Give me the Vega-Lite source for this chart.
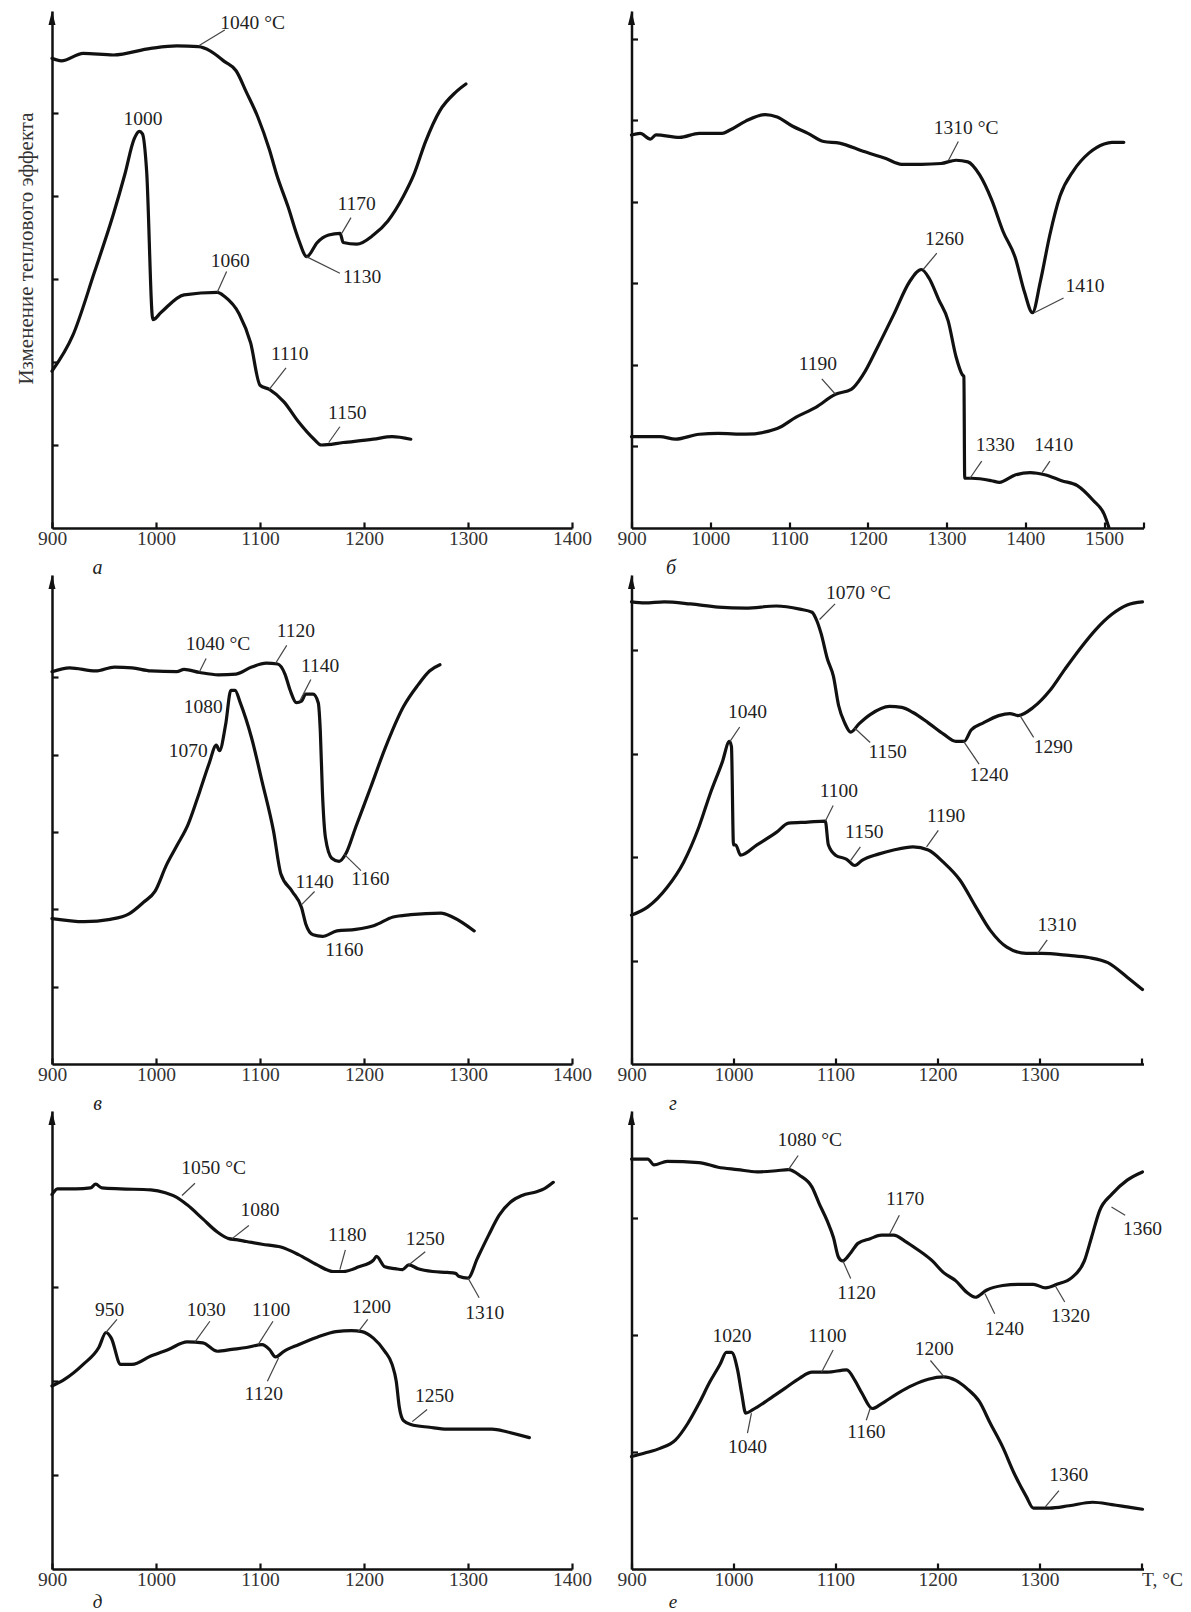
{
"$schema":"https://vega.github.io/schema/vega-lite/v6.json",
"background":"white",
"padding":{"left":15,"top":11,"right":5,"bottom":2},
"config":{"view":{"stroke":null},"font":"Liberation Serif",
 "line":{"interpolate":"monotone","color":"#111","strokeWidth":3.2,"strokeJoin":"round","strokeCap":"round"},
 "axis":{"grid":false,"domainColor":"#111","domainWidth":2.5,"tickColor":"#111","tickWidth":2.2,"tickSize":-6,"labelFont":"Liberation Serif","labelFontSize":19.5,"labelColor":"#333","labelPadding":7,"labelFlush":false,"labelOverlap":false,"titleFont":"Liberation Serif","titleFontWeight":"normal","titleColor":"#222"}},
"datasets":{
"curves":[
{"p":"a","s":"u","T":900,"y":5.66},{"p":"a","s":"u","T":909,"y":5.63},{"p":"a","s":"u","T":930,"y":5.72},{"p":"a","s":"u","T":959,"y":5.70},{"p":"a","s":"u","T":995,"y":5.78},{"p":"a","s":"u","T":1020,"y":5.81},{"p":"a","s":"u","T":1041,"y":5.80},{"p":"a","s":"u","T":1052,"y":5.75},{"p":"a","s":"u","T":1066,"y":5.62},{"p":"a","s":"u","T":1077,"y":5.51},{"p":"a","s":"u","T":1087,"y":5.25},{"p":"a","s":"u","T":1098,"y":4.95},{"p":"a","s":"u","T":1109,"y":4.56},{"p":"a","s":"u","T":1116,"y":4.26},{"p":"a","s":"u","T":1127,"y":3.87},{"p":"a","s":"u","T":1137,"y":3.48},{"p":"a","s":"u","T":1145,"y":3.27},{"p":"a","s":"u","T":1155,"y":3.44},{"p":"a","s":"u","T":1166,"y":3.53},{"p":"a","s":"u","T":1177,"y":3.55},{"p":"a","s":"u","T":1180,"y":3.44},{"p":"a","s":"u","T":1193,"y":3.42},{"p":"a","s":"u","T":1209,"y":3.53},{"p":"a","s":"u","T":1223,"y":3.70},{"p":"a","s":"u","T":1238,"y":4.00},{"p":"a","s":"u","T":1248,"y":4.26},{"p":"a","s":"u","T":1259,"y":4.65},{"p":"a","s":"u","T":1273,"y":5.03},{"p":"a","s":"u","T":1288,"y":5.25},{"p":"a","s":"u","T":1298,"y":5.35},
{"p":"a","s":"l","T":900,"y":1.89},{"p":"a","s":"l","T":920,"y":2.32},{"p":"a","s":"l","T":941,"y":3.09},{"p":"a","s":"l","T":959,"y":3.78},{"p":"a","s":"l","T":970,"y":4.26},{"p":"a","s":"l","T":979,"y":4.69},{"p":"a","s":"l","T":984,"y":4.78},{"p":"a","s":"l","T":987,"y":4.75},{"p":"a","s":"l","T":991,"y":4.30},{"p":"a","s":"l","T":997,"y":2.51},{"p":"a","s":"l","T":1005,"y":2.60},{"p":"a","s":"l","T":1027,"y":2.81},{"p":"a","s":"l","T":1059,"y":2.84},{"p":"a","s":"l","T":1066,"y":2.79},{"p":"a","s":"l","T":1080,"y":2.58},{"p":"a","s":"l","T":1091,"y":2.23},{"p":"a","s":"l","T":1100,"y":1.72},{"p":"a","s":"l","T":1109,"y":1.67},{"p":"a","s":"l","T":1123,"y":1.52},{"p":"a","s":"l","T":1137,"y":1.28},{"p":"a","s":"l","T":1152,"y":1.07},{"p":"a","s":"l","T":1159,"y":1.00},{"p":"a","s":"l","T":1180,"y":1.03},{"p":"a","s":"l","T":1209,"y":1.07},{"p":"a","s":"l","T":1227,"y":1.10},{"p":"a","s":"l","T":1245,"y":1.07},
{"p":"b","s":"u","T":900,"y":4.82},{"p":"b","s":"u","T":911,"y":4.84},{"p":"b","s":"u","T":924,"y":4.77},{"p":"b","s":"u","T":931,"y":4.82},{"p":"b","s":"u","T":961,"y":4.79},{"p":"b","s":"u","T":986,"y":4.84},{"p":"b","s":"u","T":1015,"y":4.84},{"p":"b","s":"u","T":1025,"y":4.88},{"p":"b","s":"u","T":1045,"y":4.99},{"p":"b","s":"u","T":1070,"y":5.07},{"p":"b","s":"u","T":1085,"y":5.04},{"p":"b","s":"u","T":1104,"y":4.93},{"p":"b","s":"u","T":1124,"y":4.84},{"p":"b","s":"u","T":1144,"y":4.74},{"p":"b","s":"u","T":1164,"y":4.72},{"p":"b","s":"u","T":1194,"y":4.62},{"p":"b","s":"u","T":1223,"y":4.53},{"p":"b","s":"u","T":1243,"y":4.46},{"p":"b","s":"u","T":1268,"y":4.46},{"p":"b","s":"u","T":1293,"y":4.47},{"p":"b","s":"u","T":1312,"y":4.51},{"p":"b","s":"u","T":1327,"y":4.49},{"p":"b","s":"u","T":1342,"y":4.33},{"p":"b","s":"u","T":1357,"y":4.03},{"p":"b","s":"u","T":1372,"y":3.63},{"p":"b","s":"u","T":1387,"y":3.32},{"p":"b","s":"u","T":1399,"y":2.89},{"p":"b","s":"u","T":1409,"y":2.64},{"p":"b","s":"u","T":1419,"y":3.02},{"p":"b","s":"u","T":1431,"y":3.59},{"p":"b","s":"u","T":1444,"y":4.07},{"p":"b","s":"u","T":1461,"y":4.38},{"p":"b","s":"u","T":1481,"y":4.60},{"p":"b","s":"u","T":1500,"y":4.71},{"p":"b","s":"u","T":1510,"y":4.73},{"p":"b","s":"u","T":1525,"y":4.73},
{"p":"b","s":"l","T":900,"y":1.12},{"p":"b","s":"l","T":936,"y":1.12},{"p":"b","s":"l","T":956,"y":1.09},{"p":"b","s":"l","T":986,"y":1.15},{"p":"b","s":"l","T":1010,"y":1.16},{"p":"b","s":"l","T":1045,"y":1.15},{"p":"b","s":"l","T":1085,"y":1.22},{"p":"b","s":"l","T":1109,"y":1.36},{"p":"b","s":"l","T":1134,"y":1.48},{"p":"b","s":"l","T":1159,"y":1.64},{"p":"b","s":"l","T":1179,"y":1.70},{"p":"b","s":"l","T":1194,"y":1.88},{"p":"b","s":"l","T":1213,"y":2.23},{"p":"b","s":"l","T":1233,"y":2.62},{"p":"b","s":"l","T":1253,"y":3.02},{"p":"b","s":"l","T":1268,"y":3.17},{"p":"b","s":"l","T":1278,"y":3.06},{"p":"b","s":"l","T":1290,"y":2.80},{"p":"b","s":"l","T":1302,"y":2.54},{"p":"b","s":"l","T":1312,"y":2.10},{"p":"b","s":"l","T":1320,"y":1.88},{"p":"b","s":"l","T":1322,"y":1.86},{"p":"b","s":"l","T":1323,"y":0.61},{"p":"b","s":"l","T":1332,"y":0.61},{"p":"b","s":"l","T":1357,"y":0.58},{"p":"b","s":"l","T":1367,"y":0.56},{"p":"b","s":"l","T":1387,"y":0.65},{"p":"b","s":"l","T":1406,"y":0.68},{"p":"b","s":"l","T":1426,"y":0.65},{"p":"b","s":"l","T":1446,"y":0.58},{"p":"b","s":"l","T":1466,"y":0.52},{"p":"b","s":"l","T":1486,"y":0.34},{"p":"b","s":"l","T":1500,"y":0.17},{"p":"b","s":"l","T":1506,"y":0.01},
{"p":"v","s":"u","T":900,"y":5.07},{"p":"v","s":"u","T":917,"y":5.12},{"p":"v","s":"u","T":942,"y":5.08},{"p":"v","s":"u","T":960,"y":5.13},{"p":"v","s":"u","T":977,"y":5.12},{"p":"v","s":"u","T":995,"y":5.08},{"p":"v","s":"u","T":1020,"y":5.07},{"p":"v","s":"u","T":1027,"y":5.10},{"p":"v","s":"u","T":1042,"y":5.06},{"p":"v","s":"u","T":1060,"y":5.03},{"p":"v","s":"u","T":1077,"y":5.04},{"p":"v","s":"u","T":1092,"y":5.13},{"p":"v","s":"u","T":1106,"y":5.18},{"p":"v","s":"u","T":1117,"y":5.17},{"p":"v","s":"u","T":1124,"y":5.04},{"p":"v","s":"u","T":1129,"y":4.83},{"p":"v","s":"u","T":1135,"y":4.67},{"p":"v","s":"u","T":1140,"y":4.69},{"p":"v","s":"u","T":1144,"y":4.78},{"p":"v","s":"u","T":1151,"y":4.78},{"p":"v","s":"u","T":1156,"y":4.67},{"p":"v","s":"u","T":1158,"y":4.30},{"p":"v","s":"u","T":1160,"y":3.52},{"p":"v","s":"u","T":1163,"y":2.92},{"p":"v","s":"u","T":1169,"y":2.66},{"p":"v","s":"u","T":1176,"y":2.62},{"p":"v","s":"u","T":1183,"y":2.73},{"p":"v","s":"u","T":1192,"y":3.06},{"p":"v","s":"u","T":1206,"y":3.56},{"p":"v","s":"u","T":1220,"y":4.07},{"p":"v","s":"u","T":1238,"y":4.62},{"p":"v","s":"u","T":1252,"y":4.90},{"p":"v","s":"u","T":1263,"y":5.08},{"p":"v","s":"u","T":1273,"y":5.16},
{"p":"v","s":"l","T":900,"y":1.88},{"p":"v","s":"l","T":931,"y":1.84},{"p":"v","s":"l","T":956,"y":1.87},{"p":"v","s":"l","T":974,"y":1.94},{"p":"v","s":"l","T":988,"y":2.09},{"p":"v","s":"l","T":999,"y":2.23},{"p":"v","s":"l","T":1010,"y":2.57},{"p":"v","s":"l","T":1020,"y":2.82},{"p":"v","s":"l","T":1031,"y":3.10},{"p":"v","s":"l","T":1042,"y":3.52},{"p":"v","s":"l","T":1051,"y":3.88},{"p":"v","s":"l","T":1058,"y":4.12},{"p":"v","s":"l","T":1061,"y":4.05},{"p":"v","s":"l","T":1067,"y":4.39},{"p":"v","s":"l","T":1072,"y":4.83},{"p":"v","s":"l","T":1076,"y":4.83},{"p":"v","s":"l","T":1081,"y":4.67},{"p":"v","s":"l","T":1092,"y":4.21},{"p":"v","s":"l","T":1102,"y":3.65},{"p":"v","s":"l","T":1113,"y":3.01},{"p":"v","s":"l","T":1120,"y":2.46},{"p":"v","s":"l","T":1131,"y":2.23},{"p":"v","s":"l","T":1140,"y":2.02},{"p":"v","s":"l","T":1144,"y":1.81},{"p":"v","s":"l","T":1151,"y":1.67},{"p":"v","s":"l","T":1160,"y":1.65},{"p":"v","s":"l","T":1174,"y":1.72},{"p":"v","s":"l","T":1192,"y":1.74},{"p":"v","s":"l","T":1210,"y":1.79},{"p":"v","s":"l","T":1228,"y":1.90},{"p":"v","s":"l","T":1245,"y":1.93},{"p":"v","s":"l","T":1274,"y":1.95},{"p":"v","s":"l","T":1285,"y":1.90},{"p":"v","s":"l","T":1306,"y":1.72},
{"p":"g","s":"u","T":900,"y":4.47},{"p":"g","s":"u","T":913,"y":4.46},{"p":"g","s":"u","T":932,"y":4.47},{"p":"g","s":"u","T":958,"y":4.45},{"p":"g","s":"u","T":985,"y":4.42},{"p":"g","s":"u","T":1012,"y":4.41},{"p":"g","s":"u","T":1042,"y":4.43},{"p":"g","s":"u","T":1065,"y":4.40},{"p":"g","s":"u","T":1077,"y":4.37},{"p":"g","s":"u","T":1082,"y":4.28},{"p":"g","s":"u","T":1086,"y":4.16},{"p":"g","s":"u","T":1092,"y":3.92},{"p":"g","s":"u","T":1098,"y":3.75},{"p":"g","s":"u","T":1103,"y":3.47},{"p":"g","s":"u","T":1109,"y":3.30},{"p":"g","s":"u","T":1115,"y":3.21},{"p":"g","s":"u","T":1123,"y":3.29},{"p":"g","s":"u","T":1134,"y":3.38},{"p":"g","s":"u","T":1153,"y":3.46},{"p":"g","s":"u","T":1165,"y":3.45},{"p":"g","s":"u","T":1176,"y":3.40},{"p":"g","s":"u","T":1191,"y":3.30},{"p":"g","s":"u","T":1206,"y":3.19},{"p":"g","s":"u","T":1218,"y":3.12},{"p":"g","s":"u","T":1226,"y":3.12},{"p":"g","s":"u","T":1233,"y":3.23},{"p":"g","s":"u","T":1245,"y":3.30},{"p":"g","s":"u","T":1260,"y":3.37},{"p":"g","s":"u","T":1271,"y":3.39},{"p":"g","s":"u","T":1279,"y":3.37},{"p":"g","s":"u","T":1294,"y":3.45},{"p":"g","s":"u","T":1310,"y":3.61},{"p":"g","s":"u","T":1325,"y":3.82},{"p":"g","s":"u","T":1340,"y":4.02},{"p":"g","s":"u","T":1355,"y":4.20},{"p":"g","s":"u","T":1371,"y":4.35},{"p":"g","s":"u","T":1386,"y":4.44},{"p":"g","s":"u","T":1401,"y":4.47},
{"p":"g","s":"l","T":900,"y":1.44},{"p":"g","s":"l","T":916,"y":1.52},{"p":"g","s":"l","T":935,"y":1.71},{"p":"g","s":"l","T":951,"y":1.95},{"p":"g","s":"l","T":966,"y":2.29},{"p":"g","s":"l","T":977,"y":2.61},{"p":"g","s":"l","T":989,"y":2.92},{"p":"g","s":"l","T":996,"y":3.12},{"p":"g","s":"l","T":998,"y":3.07},{"p":"g","s":"l","T":1000,"y":2.12},{"p":"g","s":"l","T":1002,"y":2.12},{"p":"g","s":"l","T":1007,"y":2.02},{"p":"g","s":"l","T":1023,"y":2.12},{"p":"g","s":"l","T":1042,"y":2.24},{"p":"g","s":"l","T":1054,"y":2.33},{"p":"g","s":"l","T":1073,"y":2.34},{"p":"g","s":"l","T":1090,"y":2.35},{"p":"g","s":"l","T":1093,"y":2.12},{"p":"g","s":"l","T":1100,"y":2.02},{"p":"g","s":"l","T":1111,"y":1.98},{"p":"g","s":"l","T":1119,"y":1.92},{"p":"g","s":"l","T":1126,"y":1.97},{"p":"g","s":"l","T":1142,"y":2.03},{"p":"g","s":"l","T":1157,"y":2.07},{"p":"g","s":"l","T":1176,"y":2.10},{"p":"g","s":"l","T":1191,"y":2.07},{"p":"g","s":"l","T":1206,"y":1.95},{"p":"g","s":"l","T":1222,"y":1.78},{"p":"g","s":"l","T":1237,"y":1.53},{"p":"g","s":"l","T":1252,"y":1.29},{"p":"g","s":"l","T":1268,"y":1.13},{"p":"g","s":"l","T":1287,"y":1.07},{"p":"g","s":"l","T":1302,"y":1.07},{"p":"g","s":"l","T":1329,"y":1.05},{"p":"g","s":"l","T":1348,"y":1.03},{"p":"g","s":"l","T":1367,"y":0.98},{"p":"g","s":"l","T":1386,"y":0.84},{"p":"g","s":"l","T":1401,"y":0.72},
{"p":"d","s":"u","T":900,"y":3.99},{"p":"d","s":"u","T":902,"y":4.02},{"p":"d","s":"u","T":905,"y":4.05},{"p":"d","s":"u","T":923,"y":4.05},{"p":"d","s":"u","T":937,"y":4.06},{"p":"d","s":"u","T":942,"y":4.10},{"p":"d","s":"u","T":948,"y":4.06},{"p":"d","s":"u","T":966,"y":4.05},{"p":"d","s":"u","T":995,"y":4.04},{"p":"d","s":"u","T":1009,"y":4.01},{"p":"d","s":"u","T":1020,"y":3.96},{"p":"d","s":"u","T":1030,"y":3.88},{"p":"d","s":"u","T":1045,"y":3.73},{"p":"d","s":"u","T":1059,"y":3.59},{"p":"d","s":"u","T":1070,"y":3.52},{"p":"d","s":"u","T":1077,"y":3.51},{"p":"d","s":"u","T":1087,"y":3.49},{"p":"d","s":"u","T":1102,"y":3.46},{"p":"d","s":"u","T":1120,"y":3.43},{"p":"d","s":"u","T":1137,"y":3.35},{"p":"d","s":"u","T":1155,"y":3.24},{"p":"d","s":"u","T":1170,"y":3.17},{"p":"d","s":"u","T":1180,"y":3.17},{"p":"d","s":"u","T":1195,"y":3.22},{"p":"d","s":"u","T":1209,"y":3.29},{"p":"d","s":"u","T":1212,"y":3.33},{"p":"d","s":"u","T":1220,"y":3.22},{"p":"d","s":"u","T":1230,"y":3.20},{"p":"d","s":"u","T":1237,"y":3.19},{"p":"d","s":"u","T":1243,"y":3.24},{"p":"d","s":"u","T":1252,"y":3.20},{"p":"d","s":"u","T":1266,"y":3.17},{"p":"d","s":"u","T":1280,"y":3.16},{"p":"d","s":"u","T":1288,"y":3.15},{"p":"d","s":"u","T":1291,"y":3.12},{"p":"d","s":"u","T":1300,"y":3.10},{"p":"d","s":"u","T":1309,"y":3.31},{"p":"d","s":"u","T":1320,"y":3.56},{"p":"d","s":"u","T":1330,"y":3.77},{"p":"d","s":"u","T":1341,"y":3.91},{"p":"d","s":"u","T":1352,"y":3.98},{"p":"d","s":"u","T":1366,"y":4.02},{"p":"d","s":"u","T":1373,"y":4.05},{"p":"d","s":"u","T":1382,"y":4.12},
{"p":"d","s":"l","T":900,"y":1.95},{"p":"d","s":"l","T":912,"y":2.02},{"p":"d","s":"l","T":930,"y":2.18},{"p":"d","s":"l","T":945,"y":2.36},{"p":"d","s":"l","T":952,"y":2.52},{"p":"d","s":"l","T":957,"y":2.46},{"p":"d","s":"l","T":966,"y":2.18},{"p":"d","s":"l","T":977,"y":2.18},{"p":"d","s":"l","T":995,"y":2.27},{"p":"d","s":"l","T":1012,"y":2.34},{"p":"d","s":"l","T":1030,"y":2.42},{"p":"d","s":"l","T":1045,"y":2.41},{"p":"d","s":"l","T":1059,"y":2.32},{"p":"d","s":"l","T":1073,"y":2.34},{"p":"d","s":"l","T":1087,"y":2.36},{"p":"d","s":"l","T":1102,"y":2.39},{"p":"d","s":"l","T":1109,"y":2.34},{"p":"d","s":"l","T":1115,"y":2.26},{"p":"d","s":"l","T":1123,"y":2.32},{"p":"d","s":"l","T":1137,"y":2.39},{"p":"d","s":"l","T":1155,"y":2.47},{"p":"d","s":"l","T":1173,"y":2.53},{"p":"d","s":"l","T":1188,"y":2.54},{"p":"d","s":"l","T":1198,"y":2.53},{"p":"d","s":"l","T":1209,"y":2.46},{"p":"d","s":"l","T":1220,"y":2.32},{"p":"d","s":"l","T":1227,"y":2.18},{"p":"d","s":"l","T":1231,"y":2.00},{"p":"d","s":"l","T":1234,"y":1.72},{"p":"d","s":"l","T":1238,"y":1.58},{"p":"d","s":"l","T":1245,"y":1.54},{"p":"d","s":"l","T":1263,"y":1.51},{"p":"d","s":"l","T":1280,"y":1.49},{"p":"d","s":"l","T":1298,"y":1.49},{"p":"d","s":"l","T":1323,"y":1.49},{"p":"d","s":"l","T":1338,"y":1.46},{"p":"d","s":"l","T":1359,"y":1.40},
{"p":"e","s":"u","T":900,"y":3.50},{"p":"e","s":"u","T":916,"y":3.50},{"p":"e","s":"u","T":922,"y":3.45},{"p":"e","s":"u","T":935,"y":3.48},{"p":"e","s":"u","T":966,"y":3.47},{"p":"e","s":"u","T":985,"y":3.43},{"p":"e","s":"u","T":1004,"y":3.41},{"p":"e","s":"u","T":1023,"y":3.39},{"p":"e","s":"u","T":1042,"y":3.40},{"p":"e","s":"u","T":1054,"y":3.41},{"p":"e","s":"u","T":1065,"y":3.36},{"p":"e","s":"u","T":1077,"y":3.26},{"p":"e","s":"u","T":1084,"y":3.12},{"p":"e","s":"u","T":1092,"y":2.97},{"p":"e","s":"u","T":1098,"y":2.83},{"p":"e","s":"u","T":1103,"y":2.66},{"p":"e","s":"u","T":1107,"y":2.63},{"p":"e","s":"u","T":1115,"y":2.70},{"p":"e","s":"u","T":1122,"y":2.78},{"p":"e","s":"u","T":1134,"y":2.82},{"p":"e","s":"u","T":1145,"y":2.85},{"p":"e","s":"u","T":1157,"y":2.85},{"p":"e","s":"u","T":1168,"y":2.80},{"p":"e","s":"u","T":1180,"y":2.73},{"p":"e","s":"u","T":1195,"y":2.63},{"p":"e","s":"u","T":1206,"y":2.53},{"p":"e","s":"u","T":1218,"y":2.46},{"p":"e","s":"u","T":1229,"y":2.36},{"p":"e","s":"u","T":1237,"y":2.32},{"p":"e","s":"u","T":1248,"y":2.38},{"p":"e","s":"u","T":1264,"y":2.42},{"p":"e","s":"u","T":1279,"y":2.43},{"p":"e","s":"u","T":1294,"y":2.43},{"p":"e","s":"u","T":1306,"y":2.40},{"p":"e","s":"u","T":1317,"y":2.43},{"p":"e","s":"u","T":1332,"y":2.49},{"p":"e","s":"u","T":1344,"y":2.63},{"p":"e","s":"u","T":1351,"y":2.83},{"p":"e","s":"u","T":1359,"y":3.06},{"p":"e","s":"u","T":1371,"y":3.20},{"p":"e","s":"u","T":1386,"y":3.32},{"p":"e","s":"u","T":1401,"y":3.39},
{"p":"e","s":"l","T":900,"y":0.96},{"p":"e","s":"l","T":913,"y":0.99},{"p":"e","s":"l","T":928,"y":1.03},{"p":"e","s":"l","T":943,"y":1.10},{"p":"e","s":"l","T":955,"y":1.24},{"p":"e","s":"l","T":966,"y":1.41},{"p":"e","s":"l","T":977,"y":1.60},{"p":"e","s":"l","T":987,"y":1.75},{"p":"e","s":"l","T":993,"y":1.85},{"p":"e","s":"l","T":998,"y":1.85},{"p":"e","s":"l","T":1004,"y":1.70},{"p":"e","s":"l","T":1008,"y":1.50},{"p":"e","s":"l","T":1012,"y":1.33},{"p":"e","s":"l","T":1019,"y":1.36},{"p":"e","s":"l","T":1035,"y":1.45},{"p":"e","s":"l","T":1050,"y":1.54},{"p":"e","s":"l","T":1065,"y":1.63},{"p":"e","s":"l","T":1077,"y":1.68},{"p":"e","s":"l","T":1092,"y":1.68},{"p":"e","s":"l","T":1111,"y":1.70},{"p":"e","s":"l","T":1119,"y":1.61},{"p":"e","s":"l","T":1126,"y":1.50},{"p":"e","s":"l","T":1136,"y":1.37},{"p":"e","s":"l","T":1145,"y":1.41},{"p":"e","s":"l","T":1161,"y":1.50},{"p":"e","s":"l","T":1176,"y":1.57},{"p":"e","s":"l","T":1191,"y":1.62},{"p":"e","s":"l","T":1206,"y":1.64},{"p":"e","s":"l","T":1218,"y":1.61},{"p":"e","s":"l","T":1229,"y":1.54},{"p":"e","s":"l","T":1241,"y":1.43},{"p":"e","s":"l","T":1252,"y":1.24},{"p":"e","s":"l","T":1264,"y":1.04},{"p":"e","s":"l","T":1275,"y":0.82},{"p":"e","s":"l","T":1287,"y":0.62},{"p":"e","s":"l","T":1294,"y":0.52},{"p":"e","s":"l","T":1310,"y":0.52},{"p":"e","s":"l","T":1329,"y":0.54},{"p":"e","s":"l","T":1352,"y":0.57},{"p":"e","s":"l","T":1371,"y":0.55},{"p":"e","s":"l","T":1386,"y":0.53},{"p":"e","s":"l","T":1401,"y":0.51}
],
"labels":[
{"p":"a","T":1092.9,"y":6.09,"t":"1040 °C"},{"p":"a","T":987.5,"y":4.93,"t":"1000"},{"p":"a","T":1192.9,"y":3.91,"t":"1170"},{"p":"a","T":1198.2,"y":3.03,"t":"1130"},{"p":"a","T":1071.4,"y":3.22,"t":"1060"},{"p":"a","T":1128.6,"y":2.10,"t":"1110"},{"p":"a","T":1183.9,"y":1.39,"t":"1150"},
{"p":"b","T":1324.8,"y":4.90,"t":"1310 °C"},{"p":"b","T":1297.5,"y":3.54,"t":"1260"},{"p":"b","T":1475.7,"y":2.97,"t":"1410"},{"p":"b","T":1136.6,"y":2.01,"t":"1190"},{"p":"b","T":1361.9,"y":1.02,"t":"1330"},{"p":"b","T":1436.1,"y":1.02,"t":"1410"},
{"p":"v","T":1059.6,"y":5.43,"t":"1040 °C"},{"p":"v","T":1134.6,"y":5.59,"t":"1120"},{"p":"v","T":1157.9,"y":5.15,"t":"1140"},{"p":"v","T":1045.4,"y":4.62,"t":"1080"},{"p":"v","T":1031.1,"y":4.05,"t":"1070"},{"p":"v","T":1206.1,"y":2.39,"t":"1160"},{"p":"v","T":1152.5,"y":2.35,"t":"1140"},{"p":"v","T":1181.1,"y":1.47,"t":"1160"},
{"p":"g","T":1122.5,"y":4.56,"t":"1070 °C"},{"p":"g","T":1151.1,"y":3.02,"t":"1150"},{"p":"g","T":1250.4,"y":2.80,"t":"1240"},{"p":"g","T":1313.4,"y":3.07,"t":"1290"},{"p":"g","T":1013.7,"y":3.40,"t":"1040"},{"p":"g","T":1103.4,"y":2.64,"t":"1100"},{"p":"g","T":1128.2,"y":2.24,"t":"1150"},{"p":"g","T":1208.4,"y":2.40,"t":"1190"},{"p":"g","T":1317.2,"y":1.34,"t":"1310"},
{"p":"d","T":1055.4,"y":4.27,"t":"1050 °C"},{"p":"d","T":1100,"y":3.82,"t":"1080"},{"p":"d","T":1183.9,"y":3.56,"t":"1180"},{"p":"d","T":1258.9,"y":3.52,"t":"1250"},{"p":"d","T":1316.1,"y":2.73,"t":"1310"},{"p":"d","T":955.4,"y":2.76,"t":"950"},{"p":"d","T":1048.2,"y":2.76,"t":"1030"},{"p":"d","T":1110.7,"y":2.76,"t":"1100"},{"p":"d","T":1103.6,"y":1.86,"t":"1120"},{"p":"d","T":1207.1,"y":2.79,"t":"1200"},{"p":"d","T":1267.9,"y":1.84,"t":"1250"},
{"p":"e","T":1074.8,"y":3.66,"t":"1080 °C"},{"p":"e","T":1168.3,"y":3.16,"t":"1170"},{"p":"e","T":1120.6,"y":2.36,"t":"1120"},{"p":"e","T":1265.6,"y":2.05,"t":"1240"},{"p":"e","T":1330.5,"y":2.16,"t":"1320"},{"p":"e","T":1401.1,"y":2.90,"t":"1360"},{"p":"e","T":998.5,"y":1.99,"t":"1020"},{"p":"e","T":1092,"y":1.99,"t":"1100"},{"p":"e","T":1196.9,"y":1.88,"t":"1200"},{"p":"e","T":1013.7,"y":1.04,"t":"1040"},{"p":"e","T":1130.2,"y":1.17,"t":"1160"},{"p":"e","T":1328.6,"y":0.80,"t":"1360"}
],
"leaders":[
{"p":"a","T1":1041.1,"y1":5.81,"T2":1066.1,"y2":6.00},{"p":"a","T1":1178.6,"y1":3.55,"T2":1187.5,"y2":3.74},{"p":"a","T1":1144.6,"y1":3.27,"T2":1176.8,"y2":3.07},{"p":"a","T1":1058.9,"y1":2.84,"T2":1067.9,"y2":3.09},{"p":"a","T1":1108.9,"y1":1.67,"T2":1125,"y2":1.93},{"p":"a","T1":1166.1,"y1":1.03,"T2":1176.8,"y2":1.22},
{"p":"b","T1":1302.5,"y1":4.51,"T2":1314.9,"y2":4.74},{"p":"b","T1":1270.3,"y1":3.17,"T2":1287.6,"y2":3.37},{"p":"b","T1":1411.4,"y1":2.64,"T2":1448.5,"y2":2.82},{"p":"b","T1":1158.9,"y1":1.64,"T2":1141.6,"y2":1.83},{"p":"b","T1":1329.7,"y1":0.61,"T2":1344.6,"y2":0.82},{"p":"b","T1":1421.3,"y1":0.68,"T2":1431.2,"y2":0.82},
{"p":"v","T1":1041.8,"y1":5.07,"T2":1048.2,"y2":5.24},{"p":"v","T1":1115,"y1":5.18,"T2":1125.7,"y2":5.41},{"p":"v","T1":1138.2,"y1":4.69,"T2":1148.9,"y2":4.97},{"p":"v","T1":1181.1,"y1":2.71,"T2":1197.1,"y2":2.50},{"p":"v","T1":1140,"y1":2.06,"T2":1152.5,"y2":2.23},
{"p":"g","T1":1084.4,"y1":4.30,"T2":1099.6,"y2":4.45},{"p":"g","T1":1118.7,"y1":3.25,"T2":1134,"y2":3.11},{"p":"g","T1":1225.6,"y1":3.12,"T2":1240.8,"y2":2.90},{"p":"g","T1":1280.9,"y1":3.37,"T2":1294.3,"y2":3.16},{"p":"g","T1":996.6,"y1":3.12,"T2":1006.1,"y2":3.26},{"p":"g","T1":1090.1,"y1":2.35,"T2":1097.7,"y2":2.50},{"p":"g","T1":1114.9,"y1":1.97,"T2":1124.4,"y2":2.10},{"p":"g","T1":1189.3,"y1":2.10,"T2":1200.8,"y2":2.26},{"p":"g","T1":1298.1,"y1":1.07,"T2":1307.6,"y2":1.20},
{"p":"d","T1":1025,"y1":3.98,"T2":1037.5,"y2":4.11},{"p":"d","T1":1073.2,"y1":3.52,"T2":1089.3,"y2":3.66},{"p":"d","T1":1176.8,"y1":3.19,"T2":1182.1,"y2":3.40},{"p":"d","T1":1242.9,"y1":3.24,"T2":1258.9,"y2":3.38},{"p":"d","T1":1300,"y1":3.10,"T2":1310.7,"y2":2.89},{"p":"d","T1":951.8,"y1":2.52,"T2":962.5,"y2":2.66},{"p":"d","T1":1037.5,"y1":2.42,"T2":1051.8,"y2":2.64},{"p":"d","T1":1098.2,"y1":2.39,"T2":1112.5,"y2":2.64},{"p":"d","T1":1117.9,"y1":2.25,"T2":1107.1,"y2":2.00},{"p":"d","T1":1194.6,"y1":2.53,"T2":1203.6,"y2":2.66},{"p":"d","T1":1246.4,"y1":1.57,"T2":1260.7,"y2":1.70},
{"p":"e","T1":1053.8,"y1":3.41,"T2":1063.4,"y2":3.53},{"p":"e","T1":1153.1,"y1":2.86,"T2":1162.6,"y2":3.02},{"p":"e","T1":1107.3,"y1":2.63,"T2":1114.9,"y2":2.48},{"p":"e","T1":1246.6,"y1":2.35,"T2":1256.1,"y2":2.18},{"p":"e","T1":1315.3,"y1":2.42,"T2":1324.8,"y2":2.28},{"p":"e","T1":1370.6,"y1":3.09,"T2":1384,"y2":3.02},{"p":"e","T1":1086.3,"y1":1.68,"T2":1097.7,"y2":1.87},{"p":"e","T1":1206.5,"y1":1.64,"T2":1193.1,"y2":1.78},{"p":"e","T1":1017.6,"y1":1.33,"T2":1013.7,"y2":1.16},{"p":"e","T1":1134,"y1":1.37,"T2":1130.2,"y2":1.27},{"p":"e","T1":1305.7,"y1":0.53,"T2":1319.1,"y2":0.67}
]
},
"columns":2,
"bounds":"flush",
"spacing":{"row":47,"column":59.5},
"concat":[
{"width":520,"height":517,"layer":[
 {"data":{"name":"curves"},"transform":[{"filter":"datum.p=='a'"}],"mark":{"type":"line"},
  "encoding":{"x":{"field":"T","type":"quantitative","scale":{"domain":[900,1400],"nice":false,"zero":false},"axis":{"values":[900,1000,1100,1200,1300,1400],"format":"d","title":"а","titleFontStyle":"italic","titleFontSize":20,"titleX":45,"titleY":39,"titleBaseline":"middle","titleAlign":"center"}},
   "y":{"field":"y","type":"quantitative","scale":{"domain":[0,6.23],"nice":false},"axis":{"values":[1,2,3,4,5],"labels":false,"title":"Изменение теплового эффекта","titleFontSize":21,"titleX":-26,"titleY":237,"titleBaseline":"middle","titleAlign":"center","titleAngle":-90,"titleColor":"#333"}},
   "detail":{"field":"s"}}},
 {"data":{"name":"leaders"},"transform":[{"filter":"datum.p=='a'"}],"mark":{"type":"rule","color":"#444","strokeWidth":1.2},"encoding":{"x":{"field":"T1","type":"quantitative"},"y":{"field":"y1","type":"quantitative"},"x2":{"field":"T2"},"y2":{"field":"y2"}}},
 {"data":{"name":"labels"},"transform":[{"filter":"datum.p=='a'"}],"mark":{"type":"text","font":"Liberation Serif","fontSize":19.5,"color":"#222","baseline":"middle"},"encoding":{"x":{"field":"T","type":"quantitative"},"y":{"field":"y","type":"quantitative"},"text":{"field":"t"}}},
 {"data":{"values":[{}]},"mark":{"type":"point","shape":"M0,0L0.5,2L-0.5,2Z","filled":true,"color":"#111","opacity":1,"size":196},"encoding":{"x":{"datum":900,"type":"quantitative"},"y":{"datum":6.23,"type":"quantitative"}}}
]},
{"width":512,"height":517,"layer":[
 {"data":{"name":"curves"},"transform":[{"filter":"datum.p=='b'"}],"mark":{"type":"line"},
  "encoding":{"x":{"field":"T","type":"quantitative","scale":{"domain":[900,1550],"nice":false,"zero":false},"axis":{"values":[900,1000,1100,1200,1300,1400,1500,1550],"format":"d","labelExpr":"datum.value==1550 ? '' : datum.label","title":"б","titleFontStyle":"italic","titleFontSize":20,"titleX":39,"titleY":39,"titleBaseline":"middle","titleAlign":"center"}},
   "y":{"field":"y","type":"quantitative","scale":{"domain":[0,6.34],"nice":false},"axis":{"values":[1,2,3,4,5,6],"labels":false,"title":null}},
   "detail":{"field":"s"}}},
 {"data":{"name":"leaders"},"transform":[{"filter":"datum.p=='b'"}],"mark":{"type":"rule","color":"#444","strokeWidth":1.2},"encoding":{"x":{"field":"T1","type":"quantitative"},"y":{"field":"y1","type":"quantitative"},"x2":{"field":"T2"},"y2":{"field":"y2"}}},
 {"data":{"name":"labels"},"transform":[{"filter":"datum.p=='b'"}],"mark":{"type":"text","font":"Liberation Serif","fontSize":19.5,"color":"#222","baseline":"middle"},"encoding":{"x":{"field":"T","type":"quantitative"},"y":{"field":"y","type":"quantitative"},"text":{"field":"t"}}},
 {"data":{"values":[{}]},"mark":{"type":"point","shape":"M0,0L0.5,2L-0.5,2Z","filled":true,"color":"#111","opacity":1,"size":196},"encoding":{"x":{"datum":900,"type":"quantitative"},"y":{"datum":6.34,"type":"quantitative"}}}
]},
{"width":520,"height":489,"layer":[
 {"data":{"name":"curves"},"transform":[{"filter":"datum.p=='v'"}],"mark":{"type":"line"},
  "encoding":{"x":{"field":"T","type":"quantitative","scale":{"domain":[900,1400],"nice":false,"zero":false},"axis":{"values":[900,1000,1100,1200,1300,1400],"format":"d","title":"в","titleFontStyle":"italic","titleFontSize":20,"titleX":45,"titleY":39,"titleBaseline":"middle","titleAlign":"center"}},
   "y":{"field":"y","type":"quantitative","scale":{"domain":[0,6.32],"nice":false},"axis":{"values":[1,2,3,4,5],"labels":false,"title":null}},
   "detail":{"field":"s"}}},
 {"data":{"name":"leaders"},"transform":[{"filter":"datum.p=='v'"}],"mark":{"type":"rule","color":"#444","strokeWidth":1.2},"encoding":{"x":{"field":"T1","type":"quantitative"},"y":{"field":"y1","type":"quantitative"},"x2":{"field":"T2"},"y2":{"field":"y2"}}},
 {"data":{"name":"labels"},"transform":[{"filter":"datum.p=='v'"}],"mark":{"type":"text","font":"Liberation Serif","fontSize":19.5,"color":"#222","baseline":"middle"},"encoding":{"x":{"field":"T","type":"quantitative"},"y":{"field":"y","type":"quantitative"},"text":{"field":"t"}}},
 {"data":{"values":[{}]},"mark":{"type":"point","shape":"M0,0L0.5,2L-0.5,2Z","filled":true,"color":"#111","opacity":1,"size":196},"encoding":{"x":{"datum":900,"type":"quantitative"},"y":{"datum":6.32,"type":"quantitative"}}}
]},
{"width":512,"height":489,"layer":[
 {"data":{"name":"curves"},"transform":[{"filter":"datum.p=='g'"}],"mark":{"type":"line"},
  "encoding":{"x":{"field":"T","type":"quantitative","scale":{"domain":[900,1402],"nice":false,"zero":false},"axis":{"values":[900,1000,1100,1200,1300,1400],"format":"d","labelExpr":"datum.value==1400 ? '' : datum.label","title":"г","titleFontStyle":"italic","titleFontSize":20,"titleX":41,"titleY":39,"titleBaseline":"middle","titleAlign":"center"}},
   "y":{"field":"y","type":"quantitative","scale":{"domain":[0,4.73],"nice":false},"axis":{"values":[1,2,3,4],"labels":false,"title":null}},
   "detail":{"field":"s"}}},
 {"data":{"name":"leaders"},"transform":[{"filter":"datum.p=='g'"}],"mark":{"type":"rule","color":"#444","strokeWidth":1.2},"encoding":{"x":{"field":"T1","type":"quantitative"},"y":{"field":"y1","type":"quantitative"},"x2":{"field":"T2"},"y2":{"field":"y2"}}},
 {"data":{"name":"labels"},"transform":[{"filter":"datum.p=='g'"}],"mark":{"type":"text","font":"Liberation Serif","fontSize":19.5,"color":"#222","baseline":"middle"},"encoding":{"x":{"field":"T","type":"quantitative"},"y":{"field":"y","type":"quantitative"},"text":{"field":"t"}}},
 {"data":{"values":[{}]},"mark":{"type":"point","shape":"M0,0L0.5,2L-0.5,2Z","filled":true,"color":"#111","opacity":1,"size":196},"encoding":{"x":{"datum":900,"type":"quantitative"},"y":{"datum":4.73,"type":"quantitative"}}}
]},
{"width":520,"height":458,"layer":[
 {"data":{"name":"curves"},"transform":[{"filter":"datum.p=='d'"}],"mark":{"type":"line"},
  "encoding":{"x":{"field":"T","type":"quantitative","scale":{"domain":[900,1400],"nice":false,"zero":false},"axis":{"values":[900,1000,1100,1200,1300,1400],"format":"d","title":"д","titleFontStyle":"italic","titleFontSize":19,"titleX":45,"titleY":32,"titleBaseline":"middle","titleAlign":"center"}},
   "y":{"field":"y","type":"quantitative","scale":{"domain":[0,4.88],"nice":false},"axis":{"values":[1,2,3],"labels":false,"title":null}},
   "detail":{"field":"s"}}},
 {"data":{"name":"leaders"},"transform":[{"filter":"datum.p=='d'"}],"mark":{"type":"rule","color":"#444","strokeWidth":1.2},"encoding":{"x":{"field":"T1","type":"quantitative"},"y":{"field":"y1","type":"quantitative"},"x2":{"field":"T2"},"y2":{"field":"y2"}}},
 {"data":{"name":"labels"},"transform":[{"filter":"datum.p=='d'"}],"mark":{"type":"text","font":"Liberation Serif","fontSize":19.5,"color":"#222","baseline":"middle"},"encoding":{"x":{"field":"T","type":"quantitative"},"y":{"field":"y","type":"quantitative"},"text":{"field":"t"}}},
 {"data":{"values":[{}]},"mark":{"type":"point","shape":"M0,0L0.5,2L-0.5,2Z","filled":true,"color":"#111","opacity":1,"size":196},"encoding":{"x":{"datum":900,"type":"quantitative"},"y":{"datum":4.88,"type":"quantitative"}}}
]},
{"width":512,"height":458,"layer":[
 {"data":{"name":"curves"},"transform":[{"filter":"datum.p=='e'"}],"mark":{"type":"line"},
  "encoding":{"x":{"field":"T","type":"quantitative","scale":{"domain":[900,1402],"nice":false,"zero":false},"axis":{"values":[900,1000,1100,1200,1300,1400],"format":"d","labelExpr":"datum.value==1400 ? 'T, °C' : datum.label","labelAlign":{"condition":{"test":"datum.value==1400","value":"left"},"value":"center"},"title":"е","titleFontStyle":"italic","titleFontSize":19,"titleX":41,"titleY":32,"titleBaseline":"middle","titleAlign":"center"}},
   "y":{"field":"y","type":"quantitative","scale":{"domain":[0,3.91],"nice":false},"axis":{"values":[1,2,3],"labels":false,"title":null}},
   "detail":{"field":"s"}}},
 {"data":{"name":"leaders"},"transform":[{"filter":"datum.p=='e'"}],"mark":{"type":"rule","color":"#444","strokeWidth":1.2},"encoding":{"x":{"field":"T1","type":"quantitative"},"y":{"field":"y1","type":"quantitative"},"x2":{"field":"T2"},"y2":{"field":"y2"}}},
 {"data":{"name":"labels"},"transform":[{"filter":"datum.p=='e'"}],"mark":{"type":"text","font":"Liberation Serif","fontSize":19.5,"color":"#222","baseline":"middle"},"encoding":{"x":{"field":"T","type":"quantitative"},"y":{"field":"y","type":"quantitative"},"text":{"field":"t"}}},
 {"data":{"values":[{}]},"mark":{"type":"point","shape":"M0,0L0.5,2L-0.5,2Z","filled":true,"color":"#111","opacity":1,"size":196},"encoding":{"x":{"datum":900,"type":"quantitative"},"y":{"datum":3.91,"type":"quantitative"}}}
]}
]
}
